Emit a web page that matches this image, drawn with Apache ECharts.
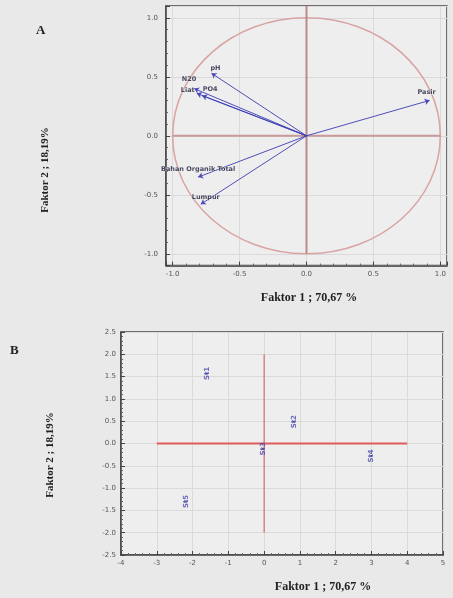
<!DOCTYPE html>
<html><head><meta charset="utf-8">
<script src="https://cdn.jsdelivr.net/npm/echarts@6/dist/echarts.min.js"></script>
<style>html,body{margin:0;padding:0;background:#e9e9e9;}#c{width:453px;height:598px;}</style>
</head><body><div id="c"></div>
<script>
// Panel A: loading vectors
const vecNames = ['pH', 'N20', 'Liat', 'PO4', 'Pasir', 'Bahan Organik Total', 'Lumpur'];
const vecX = [-0.71, -0.84, -0.82, -0.78, 0.92, -0.81, -0.79];
const vecY = [0.53, 0.40, 0.36, 0.34, 0.30, -0.35, -0.58];
// Panel B: station scores
const stNames = ['St1', 'St2', 'St3', 'St4', 'St5'];
const stX = [-1.60, 0.84, -0.03, 3.00, -2.18];
const stY = [1.57, 0.49, -0.12, -0.28, -1.30];
const xTitle = 'Faktor 1 ; 70,67 %';
const yTitle = 'Faktor 2 ; 18,19%';

// label offsets (style only)
const vecLabelOffset = [[4,-5],[-5,-9],[-9,-3],[8,-6],[-3,-8],[0,-8],[5,-7]];

const chart = echarts.init(document.getElementById('c'));
const tickLbl = {fontSize: 7, color: '#555', fontFamily: 'DejaVu Sans'};
function axisCommon(extra) {
  return Object.assign({
    axisLine: {show: true, onZero: false, lineStyle: {color: '#444', width: 1.5}},
    axisTick: {show: true, inside: true, length: 4, lineStyle: {color: '#444'}},
    minorTick: {show: true, splitNumber: 5, length: 2, lineStyle: {color: '#666'}},
    splitLine: {show: true, lineStyle: {color: '#dadada', width: 1}},
    minorSplitLine: {show: false}
  }, extra);
}
const fmt1 = v => v.toFixed(1);

const option = {
  backgroundColor: '#e9e9e9',
  animation: false,
  grid: [
    {left: 166, top: 6, width: 281, height: 259.6, show: true, backgroundColor: '#eeeeee', borderColor: '#444', borderWidth: 1.5},
    {left: 121, top: 332, width: 322, height: 223, show: true, backgroundColor: '#eeeeee', borderColor: '#444', borderWidth: 1.5}
  ],
  xAxis: [
    axisCommon({gridIndex: 0, type: 'value', min: -1.05, max: 1.05, splitNumber: 4,
      axisLabel: Object.assign({formatter: fmt1, showMinLabel: false, showMaxLabel: false, margin: 5}, tickLbl)}),
    axisCommon({gridIndex: 1, type: 'value', min: -4, max: 5, interval: 1,
      axisLabel: Object.assign({margin: 5}, tickLbl)})
  ],
  yAxis: [
    axisCommon({gridIndex: 0, type: 'value', min: -1.1, max: 1.1, splitNumber: 4,
      axisLabel: Object.assign({formatter: fmt1, showMinLabel: false, showMaxLabel: false, margin: 8}, tickLbl)}),
    axisCommon({gridIndex: 1, type: 'value', min: -2.5, max: 2.5, interval: 0.5,
      axisLabel: Object.assign({formatter: fmt1, margin: 5}, tickLbl)})
  ],
  series: [
    // unit correlation circle
    {
      type: 'custom', xAxisIndex: 0, yAxisIndex: 0, silent: true, z: 2,
      data: [[0, 0, 1]],
      renderItem: function (params, api) {
        const c = api.coord([api.value(0), api.value(1)]);
        const s = api.size([api.value(2), api.value(2)]);
        return {type: 'ellipse', shape: {cx: c[0], cy: c[1], rx: s[0], ry: s[1]},
          style: {fill: 'none', stroke: '#d9a3a3', lineWidth: 1.5}};
      }
    },
    // cross lines A
    {type: 'line', xAxisIndex: 0, yAxisIndex: 0, data: [[-1, 0], [1, 0]], symbol: 'none', silent: true, z: 3,
      lineStyle: {color: '#c99a9a', width: 2}},
    {type: 'line', xAxisIndex: 0, yAxisIndex: 0, data: [[0, -1], [0, 1.1]], symbol: 'none', silent: true, z: 3,
      lineStyle: {color: '#b98a8a', width: 2}},
    // vectors
    {
      type: 'lines', coordinateSystem: 'cartesian2d', xAxisIndex: 0, yAxisIndex: 0, z: 5,
      symbol: ['none', 'arrow'], symbolSize: 5,
      lineStyle: {color: '#3d3db5', width: 1, opacity: 0.9},
      data: vecNames.map((n, i) => ({coords: [[0, 0], [vecX[i], vecY[i]]]}))
    },
    // vector labels
    {
      type: 'scatter', xAxisIndex: 0, yAxisIndex: 0, symbolSize: 0, z: 6,
      data: vecNames.map((n, i) => ({name: n, value: [vecX[i], vecY[i]],
        label: {offset: vecLabelOffset[i]}})),
      label: {show: true, position: 'inside', formatter: '{b}', fontSize: 6.5, color: '#1a1a3a',
        fontWeight: 'bold', fontFamily: 'DejaVu Sans', textBorderColor: 'rgba(238,238,238,0.6)', textBorderWidth: 1}
    },
    // cross lines B
    {type: 'line', xAxisIndex: 1, yAxisIndex: 1, data: [[-3, 0], [4, 0]], symbol: 'none', silent: true, z: 3,
      lineStyle: {color: '#e05a5a', width: 2}},
    {type: 'line', xAxisIndex: 1, yAxisIndex: 1, data: [[0, -2], [0, 2]], symbol: 'none', silent: true, z: 3,
      lineStyle: {color: '#d95555', width: 1}},
    // station points
    {
      type: 'scatter', xAxisIndex: 1, yAxisIndex: 1, symbol: 'rect', symbolSize: 2, z: 6,
      itemStyle: {color: '#3a3a8a'},
      data: stNames.map((n, i) => ({name: n, value: [stX[i], stY[i]]})),
      label: {show: true, position: 'inside', rotate: 90, formatter: '{b}', fontSize: 7,
        color: '#4a4ab0', fontFamily: 'DejaVu Sans', fontWeight: 'bold'}
    }
  ],
  graphic: [
    {type: 'text', left: 36, top: 24, style: {text: 'A', font: 'bold 13px "Liberation Serif"', fill: '#222'}},
    {type: 'text', left: 10, top: 344, style: {text: 'B', font: 'bold 13px "Liberation Serif"', fill: '#222'}},
    {type: 'text', x: 309, y: 298, style: {text: xTitle, font: 'bold 12px "Liberation Serif"', fill: '#222', align: 'center', verticalAlign: 'middle'}},
    {type: 'text', x: 323, y: 587, style: {text: xTitle, font: 'bold 12px "Liberation Serif"', fill: '#222', align: 'center', verticalAlign: 'middle'}},
    {type: 'text', x: 45, y: 170, rotation: Math.PI / 2, style: {text: yTitle, font: 'bold 11px "Liberation Serif"', fill: '#222', align: 'center', verticalAlign: 'middle'}},
    {type: 'text', x: 50, y: 455, rotation: Math.PI / 2, style: {text: yTitle, font: 'bold 11px "Liberation Serif"', fill: '#222', align: 'center', verticalAlign: 'middle'}}
  ]
};
chart.setOption(option);
</script>
</body></html>
